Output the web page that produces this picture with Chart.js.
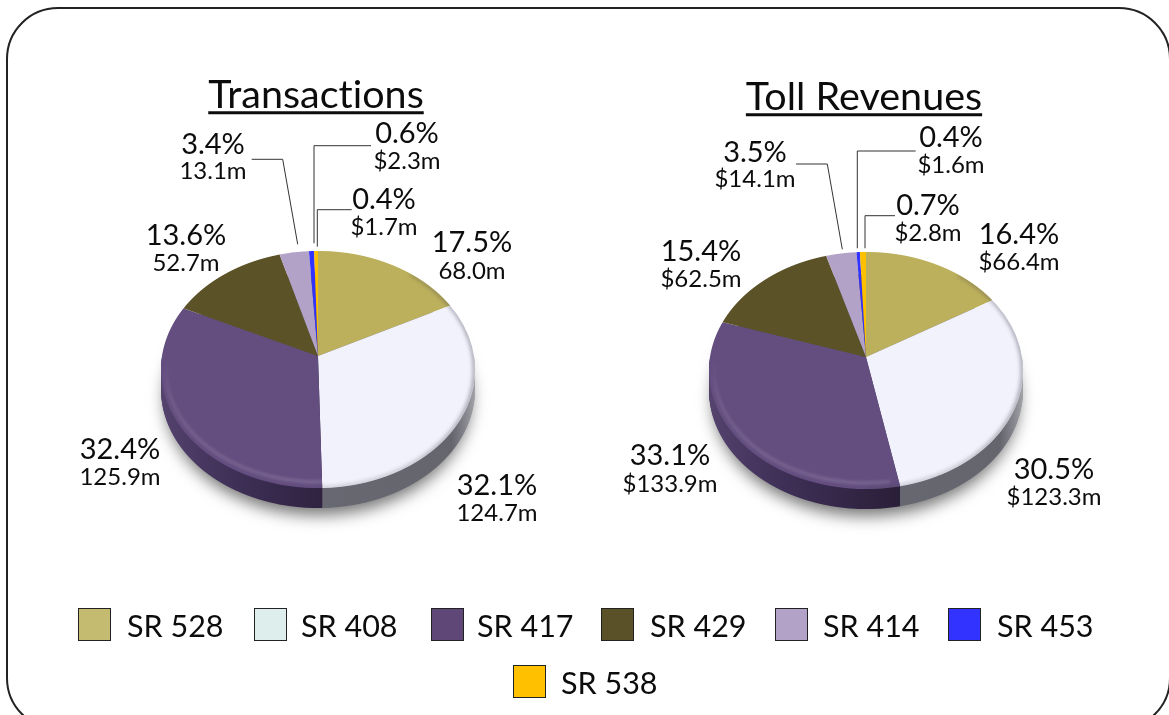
<!DOCTYPE html>
<html><head><meta charset="utf-8">
<script src="https://cdn.jsdelivr.net/npm/chart.js@4/dist/chart.umd.js"></script>
<style>
html,body{margin:0;padding:0;background:#fff;overflow:hidden}
#stage{position:relative;width:1169px;height:715px;overflow:hidden;font-family:Lato,'Noto Sans',sans-serif;color:#0c0c0c;font-variant-ligatures:none}
#frame{position:absolute;left:6px;top:7px;width:1165px;height:723px;border:2px solid #222;border-radius:52px;box-sizing:border-box}
canvas{position:absolute;top:0}
svg{position:absolute;left:0;top:0}
.t{position:absolute;white-space:nowrap;transform:translate(-50%,-50%);line-height:1}
.title{font-size:39.5px;text-decoration:underline;text-decoration-thickness:3px;text-underline-offset:3px}
.pct{font-size:29px}
.val{font-size:24px}
.sw{position:absolute;width:33px;height:33px;box-sizing:border-box;border:1.5px solid #222}
.lg{position:absolute;font-size:30.5px;line-height:1;white-space:nowrap;transform:translateY(-50%)}
</style></head>
<body>
<div id="stage">
<div id="frame"></div>
<canvas id="c1" width="584" height="715" style="left:0"></canvas>
<canvas id="c2" width="585" height="715" style="left:584px"></canvas>
<svg id="lead" width="1169" height="715"></svg>
</div>
<script>
const categories = ['SR 528','SR 408','SR 417','SR 429','SR 414','SR 453','SR 538'];
const transactionValues = [68.0,124.7,125.9,52.7,13.1,2.3,1.7];
const tollValues = [66.4,123.3,133.9,62.5,14.1,1.6,2.8];
const transactionPct = ['17.5%','32.1%','32.4%','13.6%','3.4%','0.6%','0.4%'];
const tollPct = ['16.4%','30.5%','33.1%','15.4%','3.5%','0.4%','0.7%'];
const transactionText = ['68.0m','124.7m','125.9m','52.7m','13.1m','$2.3m','$1.7m'];
const tollText = ['$66.4m','$123.3m','$133.9m','$62.5m','$14.1m','$1.6m','$2.8m'];
const titles = ['Transactions','Toll Revenues'];

const pieColors = ['#BDB05C','#F2F2FD','#644E80','#5B5227','#B3A2C7','#3333FF','#FFC000'];
const legendColors = ['#C4BB70','#DEEEEC','#5F4878','#5A5128','#B3A2C7','#3333FF','#FFC000'];

const stage = document.getElementById('stage');
function addText(cls,txt,x,y){const d=document.createElement('div');d.className='t '+cls;d.textContent=txt;d.style.left=x+'px';d.style.top=y+'px';stage.appendChild(d);}

/* perspective of the tilted disc */
const R=157,U=0.114,C=U/R,A=117/157,B=0.9935,DEPTH=20;

function drawArcs(ctx,arcs,colors){
  arcs.forEach((arc,i)=>{
    const o=arc.options;
    if(colors){arc.options=Object.assign({},o,{backgroundColor:colors[i]});}
    arc.draw(ctx);
    arc.options=o;
  });
}
function strips(ctx,arcs,tx,ty,from,to,dy,colors){
  const sx0=arcs[0].x, sy0=arcs[0].y;
  for(let r=from;r<to;r++){
    const Yc=r+0.5, y=Yc/(A+C*Yc), q=1-C*y;
    const Sx=B/q, Sy=A/(q*q);
    ctx.save();
    ctx.setTransform(1,0,0,1,0,0);
    ctx.beginPath();ctx.rect(0,ty+r+dy,ctx.canvas.width,1);ctx.clip();
    ctx.setTransform(Sx,0,0,Sy,tx-Sx*sx0,ty+dy+Yc-Sy*(sy0+y));
    drawArcs(ctx,arcs,colors);
    ctx.restore();
  }
}
const disc3d={id:'disc3d',beforeDatasetsDraw(chart){
  const ctx=chart.ctx, arcs=chart.getDatasetMeta(0).data;
  const tx=arcs[0].x, ty=Math.round(arcs[0].y);
  const ecy=ty+13.5, ery=118.5;
  /* soft shadow */
  ctx.save();
  ctx.shadowColor='rgba(0,0,0,.55)';ctx.shadowBlur=16;ctx.shadowOffsetY=9;
  ctx.fillStyle='#555';
  ctx.beginPath();ctx.ellipse(tx,ecy+DEPTH,R-4,ery-2,0,0,Math.PI*2);ctx.fill();
  ctx.restore();
  /* side wall */
  const gp=ctx.createLinearGradient(tx-R,0,tx+30,0);gp.addColorStop(0,'#56446F');gp.addColorStop(.45,'#3E2F56');gp.addColorStop(1,'#2A1F39');
  const gw=ctx.createLinearGradient(tx,0,tx+R,0);gw.addColorStop(0,'#686872');gw.addColorStop(.8,'#65656E');gw.addColorStop(1,'#A8A8AE');
  const side=['#6e6836',gw,gp,'#3a3418','#6f6080','#1a1a99','#a07a00'];
  for(let d=DEPTH;d>=1;d--) strips(ctx,arcs,tx,ty,-2,134,d,side);
  /* lid */
  strips(ctx,arcs,tx,ty,-107,134,0,null);
  /* bevel: soft, clipped to the lid */
  ctx.save();
  ctx.beginPath();ctx.ellipse(tx,ecy,R,ery,0,0,Math.PI*2);ctx.clip();
  ctx.filter='blur(1.5px)';
  const lo=ctx.createLinearGradient(0,ty,0,ty+132);
  lo.addColorStop(0,'rgba(255,255,255,0)');lo.addColorStop(.35,'rgba(255,255,255,.1)');lo.addColorStop(1,'rgba(255,255,255,.16)');
  ctx.strokeStyle=lo;ctx.lineWidth=3;
  ctx.beginPath();ctx.ellipse(tx,ecy,R-5,ery-6,0,Math.PI*0.45,Math.PI*1.05);ctx.stroke();
  ctx.filter='blur(2px)';
  const sh=ctx.createLinearGradient(tx,0,tx+R,0);
  sh.addColorStop(0,'rgba(60,60,70,.25)');sh.addColorStop(.6,'rgba(60,60,70,.35)');sh.addColorStop(1,'rgba(60,60,70,.6)');
  ctx.strokeStyle=sh;ctx.lineWidth=3;
  ctx.beginPath();ctx.ellipse(tx,ecy,R,ery,0,-Math.PI*0.3,Math.PI*0.5);ctx.stroke();
  ctx.restore();
  return false;
}};
function makePie(id,values,pad){
  return new Chart(document.getElementById(id),{
    type:'pie',
    data:{labels:categories,datasets:[{data:values,backgroundColor:pieColors,borderWidth:0,radius:R}]},
    options:{responsive:false,animation:false,devicePixelRatio:1,layout:{padding:pad},
      plugins:{legend:{display:false},tooltip:{enabled:false},title:{display:false}}},
    plugins:[disc3d]
  });
}
makePie('c1',transactionValues,{left:152,right:100,top:100,bottom:103});
makePie('c2',tollValues,{left:100,right:121,top:100,bottom:101});

/* text */
addText('title',titles[0],316,93);
addText('title',titles[1],864,95);
const leftPos=[[472,240,270],[497,483,512],[120,447,476],[186,233,262],[213,142,170],[407,131,160],[384,197,226]];
const rightPos=[[1019,232,261],[1054,467,496],[670,453,483],[701,249,278],[755,150,178],[951,135,164],[928,203,232]];
leftPos.forEach((p,i)=>{addText('pct',transactionPct[i],p[0],p[1]);addText('val',transactionText[i],p[0],p[2]);});
rightPos.forEach((p,i)=>{addText('pct',tollPct[i],p[0],p[1]);addText('val',tollText[i],p[0],p[2]);});

/* leaders */
const leaders=[
 '251.7,159.3 282.7,159.3 297.7,244.3','371,145.7 314,145.7 314,243.3','351.7,209.7 317.3,209.7 317.3,246.7',
 '796,164 827.3,164 842.3,249.3','915.7,151 857.3,151 857.3,248.3','895,215.7 865,215.7 865,248.3'];
document.getElementById('lead').innerHTML=leaders.map(p=>`<polyline points="${p}" fill="none" stroke="#333" stroke-width="1"/>`).join('');

/* legend */
const legendPos=[[78,608,127],[254,608,301],[431,608,477],[601,608,650],[775,608,823],[948,608,997],[513,665,561]];
categories.forEach((c,i)=>{
  const [sx,sy,tx]=legendPos[i];
  const s=document.createElement('div');s.className='sw';s.style.left=sx+'px';s.style.top=sy+'px';s.style.background=legendColors[i];stage.appendChild(s);
  const l=document.createElement('div');l.className='lg';l.textContent=c;l.style.left=tx+'px';l.style.top=(sy+17)+'px';stage.appendChild(l);
});
</script>
</body></html>
